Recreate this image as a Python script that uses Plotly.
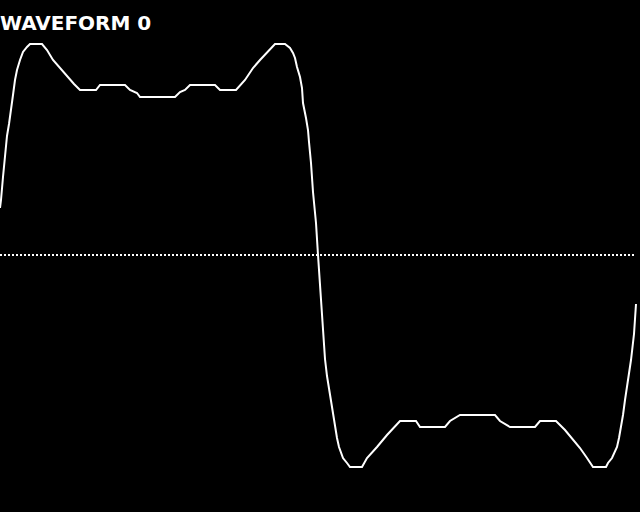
import plotly.graph_objects as go

# Waveform samples: x = horizontal position, amp = level above the midline
wave_x = [0, 1, 3, 5, 7, 9, 11, 13, 15, 17, 20, 23, 27, 30, 42, 47, 53, 60, 67, 74,
          80, 96, 100, 125, 130, 137, 140, 175, 180, 185, 190, 215, 220, 236, 245, 253,
          260, 267, 271, 275, 285, 290, 293, 295, 297, 300, 302, 303, 306, 308, 309,
          311, 313, 316, 318,
          319, 321, 323, 325, 327, 329, 331, 333, 335, 337, 339, 341, 343, 347, 350,
          362, 367, 377, 387, 400, 416, 420, 445, 450, 460, 495, 500, 510, 535, 540,
          556, 565, 573, 580, 587, 593, 606, 608, 612, 614, 617, 619, 621, 623, 625,
          627, 629, 631, 634, 636]
wave_amp = [47, 55, 78, 103, 119, 131, 144, 160, 175, 185, 195, 203, 208, 211, 211, 205,
            195, 187, 178, 171, 165, 165, 170, 170, 165, 162, 158, 158, 163, 165, 170,
            170, 165, 165, 175, 187, 195, 202, 207, 211, 211, 207, 202, 197, 188, 178,
            167, 152, 137, 125, 113, 92, 63, 32, 0,
            -16, -48, -79, -104, -121, -133, -145, -160, -173, -183, -192, -198, -203,
            -208, -212, -212, -203, -192, -180, -166, -166, -172, -172, -166, -160, -160,
            -166, -172, -172, -166, -166, -175, -185, -193, -203, -212, -212, -208, -203,
            -198, -192, -183, -173, -160, -145, -133, -121, -105, -79, -49]

# Dotted zero line
zero_x = [0, 634]
zero_amp = [0, 0]

title_text = "WAVEFORM 0"

fig = go.Figure()
fig.add_trace(go.Scatter(x=zero_x, y=zero_amp, mode="lines",
                         line=dict(color="white", width=2, dash="2px,2px"),
                         hoverinfo="skip"))
fig.add_trace(go.Scatter(x=wave_x, y=wave_amp, mode="lines",
                         line=dict(color="white", width=2),
                         hoverinfo="skip"))

fig.update_layout(
    width=640, height=512,
    margin=dict(l=0, r=0, t=0, b=0),
    paper_bgcolor="black", plot_bgcolor="black",
    showlegend=False,
    xaxis=dict(range=[0, 640], visible=False, fixedrange=True),
    yaxis=dict(range=[-257, 255], visible=False, fixedrange=True),
    annotations=[dict(text=title_text, xref="paper", yref="paper",
                      x=0, y=1 - 23 / 512, xanchor="left", yanchor="middle",
                      xshift=-2, showarrow=False,
                      font=dict(family="DejaVu Sans", size=20, color="white", weight="bold"))],
)

fig.write_html("out.html")
